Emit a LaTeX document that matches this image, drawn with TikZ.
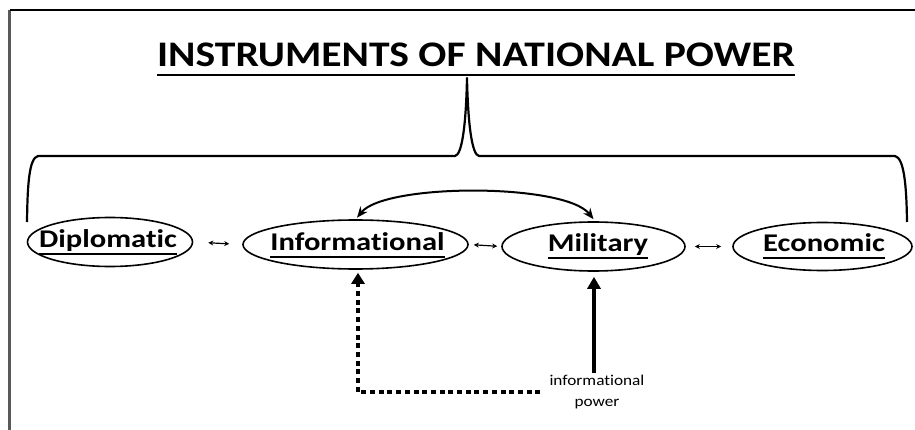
\documentclass[tikz,border=0pt]{standalone}
\usepackage{fontspec}
\setmainfont{Carlito}[Ligatures=NoCommon]
\newfontfamily\titlefont{Carlito}[FakeStretch=1.155,Ligatures=NoCommon]
\newfontfamily\labfont{Carlito}[FakeStretch=1.2,Ligatures=NoCommon]
\newfontfamily\notefont{Carlito}[FakeStretch=1.15,Ligatures=NoCommon]
\usetikzlibrary{arrows.meta,shapes.geometric}
\newsavebox\ulbox
\newcommand\ulin[3]{\sbox\ulbox{#3}\rlap{\rule[#1]{\wd\ulbox}{#2}}\usebox\ulbox}
\tikzset{
  oval/.style={ellipse, draw, line width=1.6pt, inner sep=0pt},
  lab/.style={anchor=base, inner sep=0pt, font=\labfont\bfseries\fontsize{25.5}{28}\selectfont},
  smallarr/.style={{Stealth[length=5pt,width=5pt]}-{Stealth[length=5pt,width=5pt]}, line width=1.2pt},
  curvearr/.style={{Stealth[length=11pt,width=9pt]}-{Stealth[length=11pt,width=9pt]}, line width=2pt},
  dotline/.style={line width=4pt, dash pattern=on 5pt off 3.7pt, -{Triangle[length=11pt,width=13pt]}},
  thickarr/.style={line width=4pt, -{Triangle[length=12pt,width=13pt]}},
  bracestyle/.style={line width=2.2pt, line join=round}
}
\begin{document}
\begin{tikzpicture}[x=1pt,y=-1pt]
\useasboundingbox (0,0) rectangle (915,430);
% frame (left and top edges)
\draw[line width=2.5pt, black!65] (9.5,10) -- (9.5,430);
\draw[line width=2pt] (9.5,10) -- (915,10);
% title
\node[anchor=base, inner sep=0pt, font=\titlefont\bfseries\fontsize{36}{40}\selectfont] (title) at (476,67) {\ulin{-9.4pt}{2.8pt}{INSTRUMENTS OF NATIONAL POWER}};
% brace
\draw[bracestyle] (27,222) .. controls (27.5,185) and (29,158) .. (38,156) -- (455,156)
  .. controls (462,155) and (466,125) .. (467,78)
  .. controls (468,125) and (472,155) .. (479,156) -- (895,156)
  .. controls (904,158) and (906.5,185) .. (907,222);
% ellipses
\node[oval, minimum width=165pt, minimum height=49pt] (dip) at (110,242) {};
\node[oval, minimum width=225pt, minimum height=49pt] (inf) at (355.5,244.5) {};
\node[oval, minimum width=183pt, minimum height=49pt] (mil) at (593.5,246.5) {};
\node[oval, minimum width=179pt, minimum height=48pt] (eco) at (822.5,246.5) {};
% labels
\node[lab] (diptext) at (108,248) {\ulin{-7.3pt}{2.2pt}{Diplomatic}};
\node[lab] (inftext) at (357.5,251) {\ulin{-7.3pt}{2.2pt}{Informational}};
\node[lab] (miltext) at (598,252) {\ulin{-7.3pt}{2.2pt}{Military}};
\node[lab] (ecotext) at (824,252) {\ulin{-7.3pt}{2.2pt}{Economic}};
% small double arrows
\draw[smallarr, shorten <=15pt, shorten >=13pt] (dip.east) -- (inf.west);
\draw[smallarr, shorten <=5pt, shorten >=4pt] (inf.east) -- (mil.west);
\draw[smallarr, shorten <=9pt, shorten >=11pt] (mil.east) -- (eco.west);
% curved arrow
\draw[curvearr] ([xshift=1.5pt,yshift=1.5pt]inf.north) .. controls (385,183) and (565,183) .. ([yshift=2pt]mil.north);
% informational power
\node[anchor=north, inner sep=0pt, align=center, font=\notefont\fontsize{15}{21}\selectfont] (ip) at (597,375) {informational\\power};
\draw[thickarr, shorten <=2pt, shorten >=5pt] ([xshift=-3pt]ip.north) -- ([xshift=0.5pt]mil.south);
\draw[dotline, shorten <=9pt, shorten >=3pt] (ip.west) -| ([xshift=2.5pt]inf.south);
\end{tikzpicture}
\end{document}
